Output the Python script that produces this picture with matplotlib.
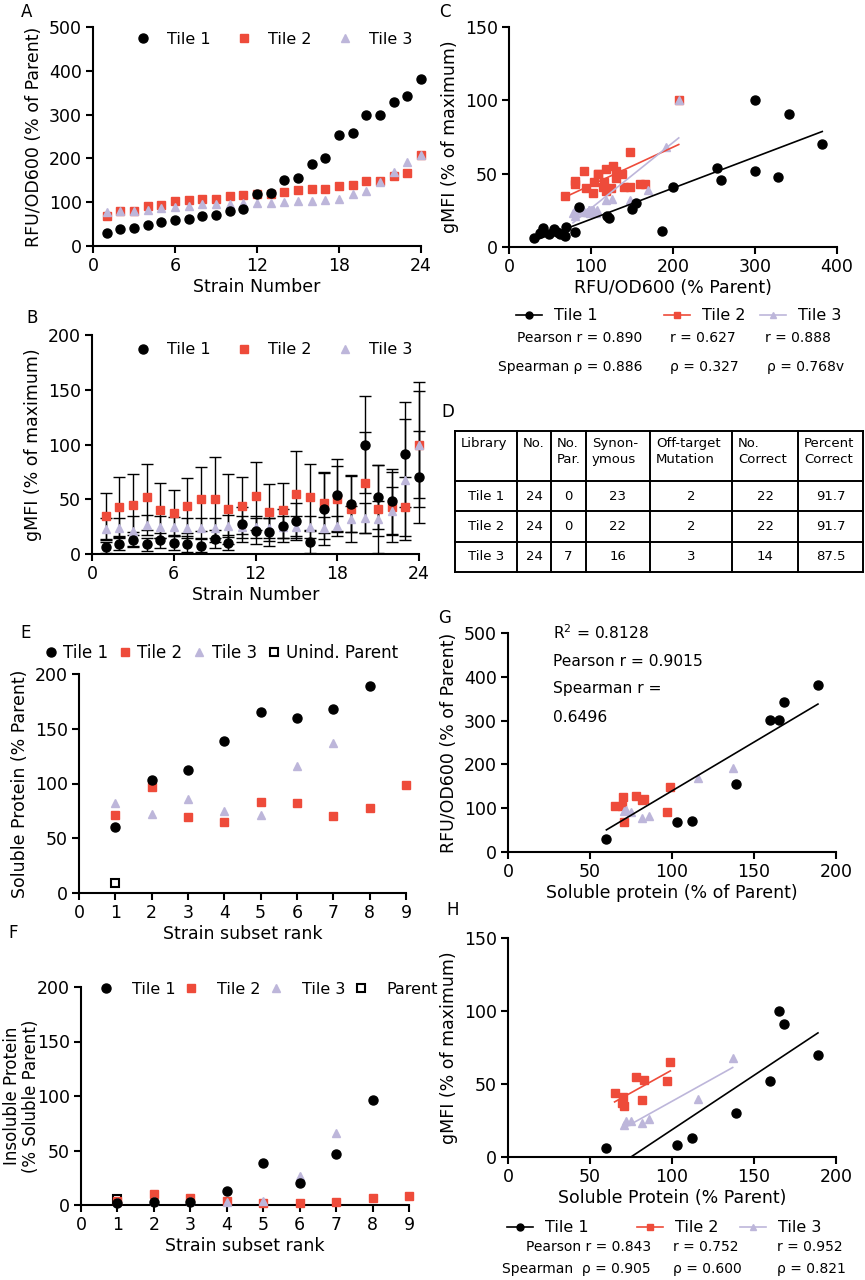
import numpy as np
import matplotlib
matplotlib.use("Agg")
import matplotlib.pyplot as plt
from matplotlib.lines import Line2D

# ---------------- data ----------------
# panels A-C : 24 strains per tile, ranked by RFU/OD600
strain = list(range(1, 25))
rfu_t1 = [30, 38, 42, 49, 55, 59, 62, 68, 70, 80, 85, 119, 122, 150, 155, 187, 200, 254, 258, 300, 300, 328, 342, 382]
rfu_t2 = [68, 80, 81, 92, 94, 103, 104, 108, 108, 115, 116, 118, 118, 124, 127, 131, 131, 138, 140, 148, 148, 160, 166, 207]
rfu_t3 = [78, 80, 81, 82, 86, 90, 92, 95, 96, 97, 98, 98, 99, 100, 102, 103, 106, 107, 118, 125, 147, 169, 191, 207]

gmfi_t1 = [6, 9.5, 13, 9, 12.5, 10.5, 9, 7.5, 13.5, 10.5, 27, 21, 20, 26, 30, 11, 41, 54, 46, 100, 52, 48, 91, 70]
gmfi_t2 = [35, 43, 45, 52, 40, 37, 44, 50, 50, 41, 44, 53, 38, 40, 55, 52, 47, 50, 41, 65, 41, 43, 43, 100]
gmfi_t3 = [23, 24, 21, 26.5, 25, 25, 24, 24, 24, 25.5, 25, 25, 23.5, 25, 25, 25, 23.5, 25.5, 32, 33, 32, 39, 68, 100]

sd_t1 = [5, 6, 7, 6, 7, 7, 7, 6, 8, 7, 16, 12, 13, 15, 17, 10, 33, 33, 26, 44, 29, 30, 48, 42]
sd_t2 = [21, 27, 28, 30, 25, 21, 25, 29, 39, 32, 26, 31, 26, 25, 39, 30, 28, 30, 30, 46, 40, 32, 27, 57]
sd_t3 = [10, 9, 14, 9, 10, 9, 9, 9, 9, 10, 10, 10, 9, 10, 10, 10, 10, 9, 12, 14, 16, 22, 55, 49]

stats_c_pearson = ["Pearson r = 0.890", "r = 0.627", "r = 0.888"]
stats_c_spearman = ["Spearman \u03c1 = 0.886", "\u03c1 = 0.327", "\u03c1 = 0.768v"]

# panel D table
table_header = ["Library", "No.", "No.\nPar.", "Synon-\nymous", "Off-target\nMutation", "No.\nCorrect", "Percent\nCorrect"]
table_rows = [
    ["Tile 1", "24", "0", "23", "2", "22", "91.7"],
    ["Tile 2", "24", "0", "22", "2", "22", "91.7"],
    ["Tile 3", "24", "7", "16", "3", "14", "87.5"],
]

# panels E-H : strain subsets
rank_t1 = [1, 2, 3, 4, 5, 6, 7, 8]
rank_t2 = [1, 2, 3, 4, 5, 6, 7, 8, 9]
rank_t3 = [1, 2, 3, 4, 5, 6, 7]
rank_parent = [1]

sol_t1 = [60, 103, 112, 139, 165, 160, 168, 189]
sol_t2 = [71, 97, 69.5, 65, 83, 82, 70, 78, 99]
sol_t3 = [82, 72, 86, 75, 71, 116, 137]
sol_parent = [9.5]

insol_t1 = [2, 3, 2.5, 12.5, 38.5, 20.5, 47, 96.6]
insol_t2 = [4, 10, 6, 4, 2, 1.5, 2.5, 6, 8.5]
insol_t3 = [3, 4, 4, 3, 4, 27, 66]
insol_parent = [5.5]

rfu_sub_t1 = [30, 68, 70, 155, 302, 302, 342, 382]
rfu_sub_t2 = [68, 92, 104, 105, 121, 119, 125, 127, 148]
rfu_sub_t3 = [78, 95, 83, 91, 93, 169, 191]

gmfi_sub_t1 = [6, 8, 13, 30, 100, 52, 91, 70]
gmfi_sub_t2 = [35, 52, 37, 43.5, 53, 39, 41, 55, 65]
gmfi_sub_t3 = [23.5, 24.5, 26, 25, 22, 40, 68]

g_text = ["R$^2$ = 0.8128", "Pearson r = 0.9015", "Spearman r =", "0.6496"]
stats_h_pearson = ["Pearson r = 0.843", "r = 0.752", "r = 0.952"]
stats_h_spearman = ["Spearman  \u03c1 = 0.905", "\u03c1 = 0.600", "\u03c1 = 0.821"]

# ---------------- style ----------------
RED = "#EE4B3A"
LAV = "#BDB6DA"
BLK = "#000000"
W, H = 865, 1280
plt.rcParams['font.family'] = 'DejaVu Sans'
plt.rcParams['axes.linewidth'] = 1.5

fig = plt.figure(figsize=(W / 100, H / 100), dpi=100)


def px_axes(left, top, right, bottom):
    return fig.add_axes([left / W, 1 - bottom / H, (right - left) / W, (bottom - top) / H])


def fx(x):
    return x / W


def fy(y):
    return 1 - y / H


def style(ax):
    ax.spines['top'].set_visible(False)
    ax.spines['right'].set_visible(False)
    ax.tick_params(direction='out', length=5, width=1.5, labelsize=12.5, pad=3)


tile_style = {
    "t1": dict(marker='o', color=BLK, ms=6.5, zorder=5),
    "t2": dict(marker='s', color=RED, ms=6.2, zorder=3),
    "t3": dict(marker='^', color=LAV, ms=6.3, zorder=4),
}


def pts(ax, x, y, key, label=None):
    ax.plot(x, y, linestyle='none', clip_on=False, label=label, **tile_style[key])


def fit_line(ax, x, y, color, zorder=2):
    x = np.asarray(x, float)
    y = np.asarray(y, float)
    k, b = np.polyfit(x, y, 1)
    xs = np.array([x.min(), x.max()])
    ax.plot(xs, k * xs + b, color=color, lw=1.2, zorder=zorder)


def top_legend(ax, x, y, **kw):
    opts = dict(loc='center left', bbox_to_anchor=(fx(x), fy(y)), bbox_transform=fig.transFigure,
                frameon=False, numpoints=1, borderpad=0, borderaxespad=0, fontsize=11.5)
    opts.update(kw)
    ax.legend(**opts)


def panel_label(txt, x, y):
    fig.text(fx(x), fy(y), txt, ha='center', va='center', fontsize=12)


# ---------------- A ----------------
axA = px_axes(93, 27, 421, 246)
style(axA)
pts(axA, strain, rfu_t1, "t1", "Tile 1")
pts(axA, strain, rfu_t2, "t2", "Tile 2")
pts(axA, strain, rfu_t3, "t3", "Tile 3")
axA.set_xlim(0, 24)
axA.set_ylim(0, 500)
axA.set_xticks([0, 6, 12, 18, 24])
axA.set_yticks(range(0, 501, 100))
axA.set_xlabel("Strain Number", fontsize=12.5, labelpad=2)
axA.set_ylabel("RFU/OD600 (% of Parent)", fontsize=12.5)
top_legend(axA, 135, 39, ncol=3, handlelength=1.0, handletextpad=1.0, columnspacing=1.6)

# ---------------- B ----------------
axB = px_axes(92, 335, 419, 554)
style(axB)
for g, s in [(gmfi_t1, sd_t1), (gmfi_t2, sd_t2), (gmfi_t3, sd_t3)]:
    axB.errorbar(strain, g, yerr=s, fmt='none', ecolor=BLK, elinewidth=1.0, capsize=4, capthick=1.0,
                 zorder=2, clip_on=False)
pts(axB, strain, gmfi_t1, "t1", "Tile 1")
pts(axB, strain, gmfi_t2, "t2", "Tile 2")
pts(axB, strain, gmfi_t3, "t3", "Tile 3")
axB.set_xlim(0, 24)
axB.set_ylim(0, 200)
axB.set_xticks([0, 6, 12, 18, 24])
axB.set_yticks(range(0, 201, 50))
axB.set_xlabel("Strain Number", fontsize=12.5, labelpad=2)
axB.set_ylabel("gMFI (% of maximum)", fontsize=12.5)
top_legend(axB, 135, 350, ncol=3, handlelength=1.0, handletextpad=1.0, columnspacing=1.6)

# ---------------- C ----------------
axC = px_axes(509, 27, 837, 247)
style(axC)
pts(axC, rfu_t1, gmfi_t1, "t1")
pts(axC, rfu_t2, gmfi_t2, "t2")
pts(axC, rfu_t3, gmfi_t3, "t3")
fit_line(axC, rfu_t1, gmfi_t1, BLK, 6)
fit_line(axC, rfu_t2, gmfi_t2, RED, 6)
fit_line(axC, rfu_t3, gmfi_t3, LAV, 6)
axC.set_xlim(0, 400)
axC.set_ylim(0, 150)
axC.set_xticks(range(0, 401, 100))
axC.set_yticks([0, 50, 100, 150])
axC.set_xlabel("RFU/OD600 (% Parent)", fontsize=12.5, labelpad=2)
axC.set_ylabel("gMFI (% of maximum)", fontsize=12.5)


def line_legends(xs, y, labels):
    keys = ["t1", "t2", "t3"]
    for x, lab, key in zip(xs, labels, keys):
        st = tile_style[key]
        h = Line2D([], [], color=st['color'], marker=st['marker'], ms=5, lw=1.2)
        fig.legend([h], [lab], loc='center left', bbox_to_anchor=(fx(x), fy(y)),
                   bbox_transform=fig.transFigure, frameon=False, borderpad=0, borderaxespad=0,
                   handlelength=1.6, handletextpad=0.8, fontsize=11.5)


line_legends([516, 664, 760], 316, ["Tile 1", "Tile 2", "Tile 3"])
fig.text(fx(642), fy(338), stats_c_pearson[0], ha='right', va='center', fontsize=10)
fig.text(fx(670), fy(338), stats_c_pearson[1], ha='left', va='center', fontsize=10)
fig.text(fx(765), fy(338), stats_c_pearson[2], ha='left', va='center', fontsize=10)
fig.text(fx(642), fy(367), stats_c_spearman[0], ha='right', va='center', fontsize=10)
fig.text(fx(670), fy(367), stats_c_spearman[1], ha='left', va='center', fontsize=10)
fig.text(fx(767), fy(367), stats_c_spearman[2], ha='left', va='center', fontsize=10)

# ---------------- D (table) ----------------
col_edges = [455, 517, 551, 586, 650, 732, 798, 863]
row_edges = [431, 481, 511, 542, 572]
axD = px_axes(455, 431, 863, 572)
axD.set_xlim(455, 863)
axD.set_ylim(572, 431)
axD.axis('off')
for xe in col_edges:
    axD.plot([xe, xe], [row_edges[0], row_edges[-1]], color=BLK, lw=1.4, clip_on=False)
for ye in row_edges:
    axD.plot([col_edges[0], col_edges[-1]], [ye, ye], color=BLK, lw=1.4, clip_on=False)
for i, txt in enumerate(table_header):
    axD.text(col_edges[i] + 6, row_edges[0] + 6, txt, ha='left', va='top', fontsize=9.5, linespacing=1.25)
for r, row in enumerate(table_rows):
    yc = (row_edges[r + 1] + row_edges[r + 2]) / 2
    for i, txt in enumerate(row):
        xc = (col_edges[i] + col_edges[i + 1]) / 2
        axD.text(xc, yc, txt, ha='center', va='center', fontsize=9.5)

# ---------------- E ----------------
axE = px_axes(79, 674, 406, 893)
style(axE)
pts(axE, rank_t1, sol_t1, "t1", "Tile 1")
pts(axE, rank_t2, sol_t2, "t2", "Tile 2")
pts(axE, rank_t3, sol_t3, "t3", "Tile 3")
axE.plot(rank_parent, sol_parent, linestyle='none', marker='s', ms=6.2, mfc='white', mec=BLK, mew=1.5,
         clip_on=False, zorder=6, label="Unind. Parent")
axE.set_xlim(0, 9)
axE.set_ylim(0, 200)
axE.set_xticks(range(0, 10))
axE.set_yticks(range(0, 201, 50))
axE.set_xlabel("Strain subset rank", fontsize=12.5, labelpad=2)
axE.set_ylabel("Soluble Protein (% Parent)", fontsize=12.5)
top_legend(axE, 44, 653, ncol=4, handlelength=0.8, handletextpad=0.35, columnspacing=0.6, fontsize=12)

# ---------------- F ----------------
axF = px_axes(81, 987, 409, 1205)
style(axF)
axF.plot(rank_parent, insol_parent, linestyle='none', marker='s', ms=6.2, mfc='white', mec=BLK, mew=1.5,
         clip_on=False, zorder=2, label="Parent")
pts(axF, rank_t1, insol_t1, "t1", "Tile 1")
pts(axF, rank_t2, insol_t2, "t2", "Tile 2")
pts(axF, rank_t3, insol_t3, "t3", "Tile 3")
axF.set_xlim(0, 9)
axF.set_ylim(0, 200)
axF.set_xticks(range(0, 10))
axF.set_yticks(range(0, 201, 50))
axF.set_xlabel("Strain subset rank", fontsize=12.5, labelpad=2)
axF.set_ylabel("Insoluble Protein\n(% Soluble Parent)", fontsize=12, linespacing=1.1)
axF.yaxis.set_label_coords(-0.125, 0.5)
hF, lF = axF.get_legend_handles_labels()
axF.legend(hF[1:] + hF[:1], lF[1:] + lF[:1], loc='center left', bbox_to_anchor=(fx(98), fy(989)),
           bbox_transform=fig.transFigure, ncol=4, frameon=False, numpoints=1, borderpad=0,
           borderaxespad=0, fontsize=11.5, handlelength=1.0, handletextpad=1.1, columnspacing=0.5)

# ---------------- G ----------------
axG = px_axes(508, 633, 836, 852)
style(axG)
pts(axG, sol_t1, rfu_sub_t1, "t1")
pts(axG, sol_t2, rfu_sub_t2, "t2")
pts(axG, sol_t3, rfu_sub_t3, "t3")
fit_line(axG, sol_t1 + sol_t2 + sol_t3, rfu_sub_t1 + rfu_sub_t2 + rfu_sub_t3, BLK, 6)
axG.set_xlim(0, 200)
axG.set_ylim(0, 500)
axG.set_xticks(range(0, 201, 50))
axG.set_yticks(range(0, 501, 100))
axG.set_xlabel("Soluble protein (% of Parent)", fontsize=12.5, labelpad=2)
axG.set_ylabel("RFU/OD600 (% of Parent)", fontsize=12.5)
for i, txt in enumerate(g_text):
    fig.text(fx(553), fy(633 + 28 * i), txt, ha='left', va='center', fontsize=11.2)

# ---------------- H ----------------
axH = px_axes(508, 938, 836, 1157)
style(axH)
pts(axH, sol_t1, gmfi_sub_t1, "t1")
pts(axH, sol_t2, gmfi_sub_t2, "t2")
pts(axH, sol_t3, gmfi_sub_t3, "t3")
fit_line(axH, sol_t1, gmfi_sub_t1, BLK, 6)
fit_line(axH, sol_t2, gmfi_sub_t2, RED, 6)
fit_line(axH, sol_t3, gmfi_sub_t3, LAV, 6)
axH.set_xlim(0, 200)
axH.set_ylim(0, 150)
axH.set_xticks(range(0, 201, 50))
axH.set_yticks([0, 50, 100, 150])
axH.set_xlabel("Soluble Protein (% Parent)", fontsize=12.5, labelpad=2)
axH.set_ylabel("gMFI (% of maximum)", fontsize=12.5)
line_legends([507, 637, 740], 1228, ["Tile 1", "Tile 2", "Tile 3"])
fig.text(fx(651), fy(1247), stats_h_pearson[0], ha='right', va='center', fontsize=10)
fig.text(fx(673), fy(1247), stats_h_pearson[1], ha='left', va='center', fontsize=10)
fig.text(fx(777), fy(1247), stats_h_pearson[2], ha='left', va='center', fontsize=10)
fig.text(fx(651), fy(1269), stats_h_spearman[0], ha='right', va='center', fontsize=10)
fig.text(fx(673), fy(1269), stats_h_spearman[1], ha='left', va='center', fontsize=10)
fig.text(fx(777), fy(1269), stats_h_spearman[2], ha='left', va='center', fontsize=10)

# panel letters
panel_label("A", 27, 12)
panel_label("B", 32, 318)
panel_label("C", 445, 12)
panel_label("D", 448, 412)
panel_label("E", 26, 633)
panel_label("F", 13, 933)
panel_label("G", 445, 618)
panel_label("H", 453, 910)

fig.savefig("out.png", dpi=100)
